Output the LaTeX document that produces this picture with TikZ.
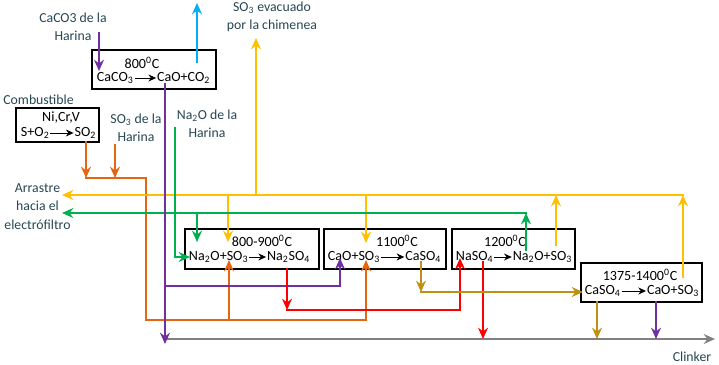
\documentclass[tikz,border=0pt]{standalone}
\usepackage{fontspec}
\setmainfont{Carlito}
\usepackage{tikz}
\usetikzlibrary{graphs}
\usetikzlibrary{arrows.meta}
\usepackage{xcolor}

\definecolor{labeltext}{RGB}{38,70,83}
\definecolor{capurple}{RGB}{112,48,160}
\definecolor{coblue}{RGB}{0,176,240}
\definecolor{soyellow}{RGB}{255,192,0}
\definecolor{naogreen}{RGB}{0,176,80}
\definecolor{fuelorange}{RGB}{232,101,15}
\definecolor{nasred}{RGB}{255,0,0}
\definecolor{casolive}{RGB}{190,145,20}
\definecolor{clinkgrey}{RGB}{128,128,128}

\tikzset{
    stagebox/.style={draw=black, line width=0.85pt},
    tempc/.style={inner sep=0.5pt, font=\fontsize{10}{12}\selectfont},
    chem/.style={inner sep=0.5pt, text height=1.6ex, text depth=0.5ex, font=\fontsize{10}{12}\selectfont},
    chemarrow/.style={draw=black, line width=0.7pt, -{Stealth[length=5.5pt,width=5pt]}},
    lbl/.style={text=labeltext, align=center, inner sep=0.5pt, font=\fontsize{9.8}{13}\selectfont},
    flow/.style={line width=2.1pt, line cap=rect},
    caflow/.style={flow, draw=capurple},
    coflow/.style={flow, draw=coblue},
    soflow/.style={flow, draw=soyellow},
    naoflow/.style={flow, draw=naogreen},
    fuelflow/.style={flow, draw=fuelorange},
    nasflow/.style={flow, draw=nasred},
    casflow/.style={flow, draw=casolive},
    clinkflow/.style={flow, draw=clinkgrey}
}

\begin{document}
\begin{tikzpicture}[>={Stealth[length=8pt,width=7pt]}]
            \useasboundingbox (0,0) rectangle (17.975,9.125);

            \node[stagebox, minimum width=3.100cm, minimum height=0.975cm] (b800) at (3.850, 7.388) {};
            \node[stagebox, minimum width=2.075cm, minimum height=0.850cm] (bfuel) at (1.438, 6.000) {};
            \node[stagebox, minimum width=3.350cm, minimum height=1.000cm] (b900) at (6.300, 2.900) {};
            \node[stagebox, minimum width=3.050cm, minimum height=1.000cm] (b1100) at (9.625, 2.900) {};
            \node[stagebox, minimum width=3.075cm, minimum height=1.000cm] (b1200) at (12.838, 2.900) {};
            \node[stagebox, minimum width=3.025cm, minimum height=0.975cm] (b1400) at (16.038, 2.063) {};

            \node[tempc] (t800) at (3.550, 7.550) {800\textsuperscript{0}C};
            \node[chem, anchor=west] (caco3) at (2.400, 7.175) {CaCO\textsubscript{3}};
            \node[chem, anchor=east] (caoco2) at (5.275, 7.175) {CaO+CO\textsubscript{2}};
            \node[tempc] (nicrv) at (1.525, 6.175) {Ni,Cr,V};
            \node[chem, anchor=west] (so2in) at (0.500, 5.800) {S+O\textsubscript{2}};
            \node[chem, anchor=east] (so2out) at (2.425, 5.800) {SO\textsubscript{2}};
            \node[tempc] (t900) at (6.550, 3.100) {800-900\textsuperscript{0}C};
            \node[chem, anchor=west] (naoso3) at (4.700, 2.700) {Na\textsubscript{2}O+SO\textsubscript{3}};
            \node[chem, anchor=east] (na2so4) at (7.775, 2.700) {Na\textsubscript{2}SO\textsubscript{4}};
            \node[tempc] (t1100) at (9.925, 3.100) {1100\textsuperscript{0}C};
            \node[chem, anchor=west] (caoso3) at (8.175, 2.700) {CaO+SO\textsubscript{3}};
            \node[chem, anchor=east] (caso4) at (11.050, 2.700) {CaSO\textsubscript{4}};
            \node[tempc] (t1200) at (12.625, 3.100) {1200\textsuperscript{0}C};
            \node[chem, anchor=west] (naso4) at (11.375, 2.700) {NaSO\textsubscript{4}};
            \node[chem, anchor=east] (naoso3b) at (14.325, 2.700) {Na\textsubscript{2}O+SO\textsubscript{3}};
            \node[tempc] (t1400) at (16.000, 2.250) {1375-1400\textsuperscript{0}C};
            \node[chem, anchor=west] (caso4b) at (14.600, 1.850) {CaSO\textsubscript{4}};
            \node[chem, anchor=east] (caoso3b) at (17.500, 1.850) {CaO+SO\textsubscript{3}};

            \node[lbl] (caco3harina) at (1.825, 8.463) {CaCO3 de la\\Harina};
            \node[lbl] (chimenea) at (6.800, 8.713) {SO\textsubscript{3} evacuado\\por la chimenea};
            \node[lbl] (combustible) at (0.963, 6.625) {Combustible};
            \node[lbl] (so3harina) at (3.400, 5.938) {SO\textsubscript{3} de la\\Harina};
            \node[lbl] (naoharina) at (5.175, 6.025) {Na\textsubscript{2}O de la\\Harina};
            \node[lbl] (arrastre) at (0.938, 3.963) {Arrastre\\hacia el\\electrófiltro};
            \node[lbl] (clinker) at (17.300, 0.200) {Clinker};

            \coordinate (99_332) at (2.475, 8.300);
            \coordinate (99_294) at (2.475, 7.350);
            \coordinate (165_281) at (4.125, 7.025);
            \coordinate (165_79) at (4.125, 1.975);
            \coordinate (165_21) at (4.125, 0.525);
            \coordinate (340_79) at (8.500, 1.975);
            \coordinate (340_107) at (8.500, 2.675);
            \coordinate (656_63) at (16.400, 1.575);
            \coordinate (656_26) at (16.400, 0.650);
            \coordinate (197_303) at (4.925, 7.575);
            \coordinate (197_362) at (4.925, 9.050);
            \coordinate (256_170) at (6.400, 4.250);
            \coordinate (256_327) at (6.400, 8.175);
            \coordinate (683_170) at (17.075, 4.250);
            \coordinate (62_170) at (1.550, 4.250);
            \coordinate (228_170) at (5.700, 4.250);
            \coordinate (228_123) at (5.700, 3.075);
            \coordinate (366_170) at (9.150, 4.250);
            \coordinate (366_122) at (9.150, 3.050);
            \coordinate (556_120) at (13.900, 3.000);
            \coordinate (556_170) at (13.900, 4.250);
            \coordinate (683_88) at (17.075, 2.200);
            \coordinate (175_237) at (4.375, 5.925);
            \coordinate (175_108) at (4.375, 2.700);
            \coordinate (190_108) at (4.750, 2.700);
            \coordinate (526_115) at (13.150, 2.875);
            \coordinate (526_152) at (13.150, 3.800);
            \coordinate (62_152) at (1.550, 3.800);
            \coordinate (197_152) at (4.925, 3.800);
            \coordinate (197_123) at (4.925, 3.075);
            \coordinate (86_223) at (2.150, 5.575);
            \coordinate (86_187) at (2.150, 4.675);
            \coordinate (115_220) at (2.875, 5.500);
            \coordinate (115_187) at (2.875, 4.675);
            \coordinate (146_187) at (3.650, 4.675);
            \coordinate (146_45) at (3.650, 1.125);
            \coordinate (229_45) at (5.725, 1.125);
            \coordinate (229_105) at (5.725, 2.625);
            \coordinate (366_45) at (9.150, 1.125);
            \coordinate (366_105) at (9.150, 2.625);
            \coordinate (287_96) at (7.175, 2.400);
            \coordinate (287_55) at (7.175, 1.375);
            \coordinate (460_55) at (11.500, 1.375);
            \coordinate (460_107) at (11.500, 2.675);
            \coordinate (483_103) at (12.075, 2.575);
            \coordinate (483_26) at (12.075, 0.650);
            \coordinate (421_103) at (10.525, 2.575);
            \coordinate (421_73) at (10.525, 1.825);
            \coordinate (583_73) at (14.575, 1.825);
            \coordinate (597_63) at (14.925, 1.575);
            \coordinate (597_26) at (14.925, 0.650);
            \coordinate (165_26) at (4.125, 0.650);
            \coordinate (715_26) at (17.875, 0.650);

            \graph {(caco3) --[chemarrow] (caoco2)};
            \graph {(so2in) --[chemarrow] (so2out)};
            \graph {(naoso3) --[chemarrow] (na2so4)};
            \graph {(caoso3) --[chemarrow] (caso4)};
            \graph {(naso4) --[chemarrow] (naoso3b)};
            \graph {(caso4b) --[chemarrow] (caoso3b)};

            \graph {(165_26) ->[clinkflow] (715_26)};

            \graph {(86_223) ->[fuelflow] (86_187)};
            \graph {(115_220) ->[fuelflow] (115_187)};
            \graph {(86_187) --[fuelflow] (146_187) --[fuelflow] (146_45) --[fuelflow] (366_45) ->[fuelflow] (366_105)};
            \graph {(229_45) ->[fuelflow] (229_105)};

            \graph {(683_170) ->[soflow] (62_170)};
            \graph {(256_170) ->[soflow] (256_327)};
            \graph {(228_170) ->[soflow] (228_123)};
            \graph {(366_170) ->[soflow] (366_122)};
            \graph {(556_120) ->[soflow] (556_170)};
            \graph {(683_88) ->[soflow] (683_170)};

            \graph {(175_237) --[naoflow] (175_108) ->[naoflow] (190_108)};
            \graph {(526_115) ->[naoflow] (526_152)};
            \graph {(526_152) ->[naoflow] (62_152)};
            \graph {(197_152) ->[naoflow] (197_123)};

            \graph {(99_332) ->[caflow] (99_294)};
            \graph {(165_281) ->[caflow] (165_21)};
            \graph {(165_79) --[caflow] (340_79) ->[caflow] (340_107)};
            \graph {(656_63) ->[caflow] (656_26)};

            \graph {(197_303) ->[coflow] (197_362)};

            \graph {(287_96) ->[nasflow] (287_55)};
            \graph {(287_55) --[nasflow] (460_55) ->[nasflow] (460_107)};
            \graph {(483_103) ->[nasflow] (483_26)};

            \graph {(421_103) ->[casflow] (421_73)};
            \graph {(421_73) ->[casflow] (583_73)};
            \graph {(597_63) ->[casflow] (597_26)};
        \end{tikzpicture}
\end{document}
